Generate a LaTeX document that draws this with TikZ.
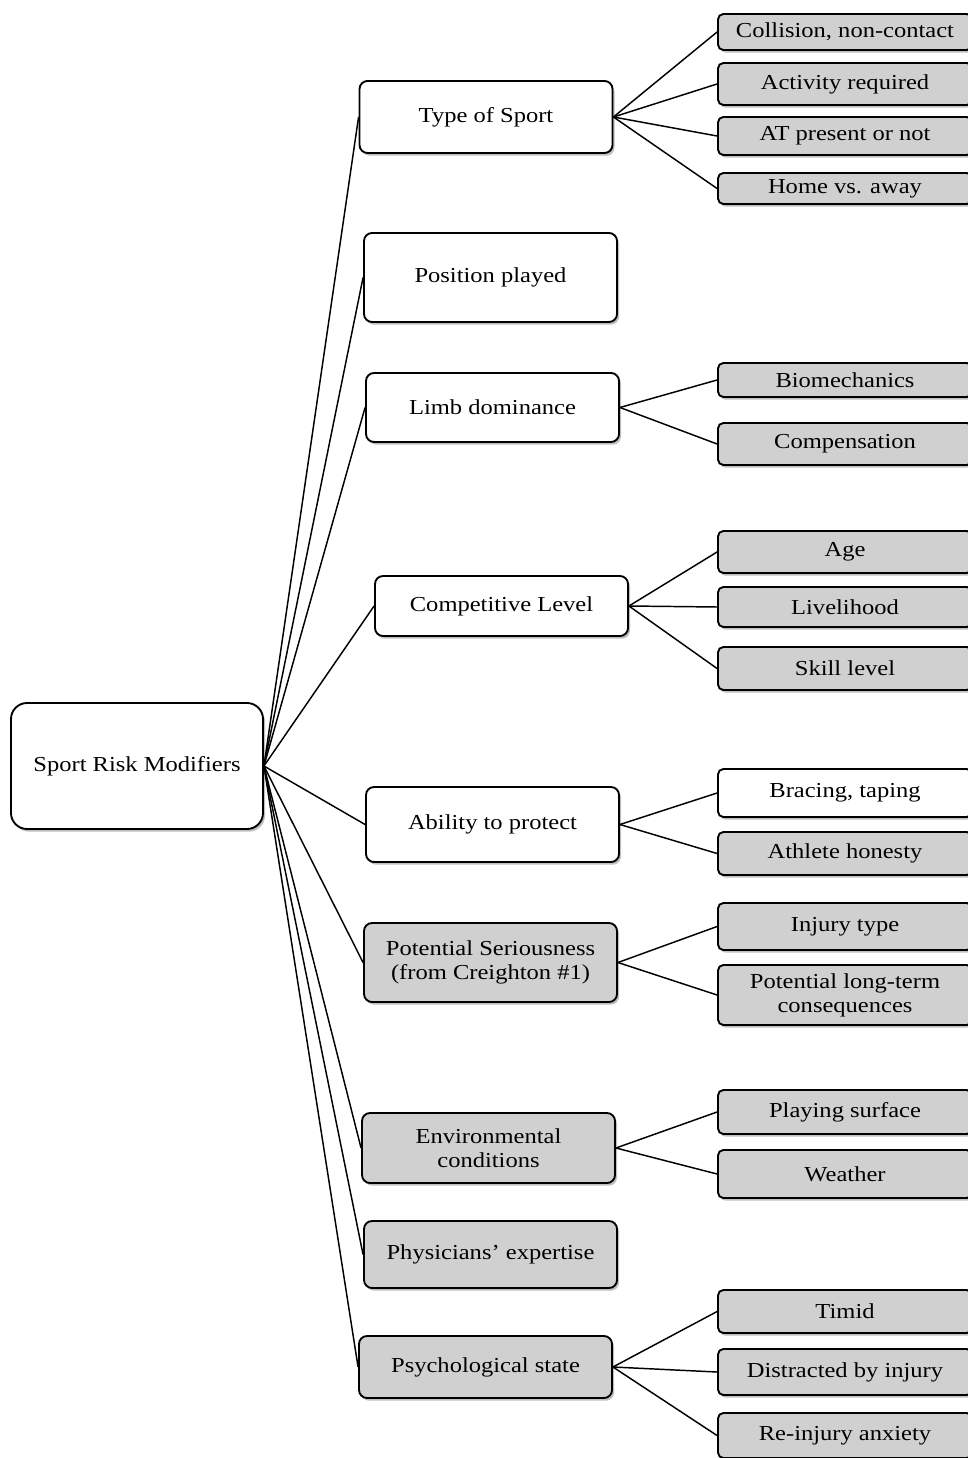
\documentclass[tikz,border=0pt]{standalone}
\usepackage{fontspec}
\setmainfont{Liberation Serif}[FakeStretch=1.15]
\usetikzlibrary{shadows}
\definecolor{boxgray}{RGB}{208,208,208}
\begin{document}
\begin{tikzpicture}[x=0.75pt,y=-0.75pt,
  font=\fontsize{16}{18}\selectfont,
  every node/.style={align=center, inner sep=0pt},
  basebox/.style={draw=black, line width=1.4pt, rounded corners=6pt,
    drop shadow={shadow xshift=1.5pt, shadow yshift=-2pt, opacity=0.25, fill=black}},
  rootbox/.style={basebox, fill=white, rounded corners=12pt,
    minimum width=189pt, minimum height=94.5pt},
  midbox/.style={basebox, minimum width=189.75pt},
  leafbox/.style={basebox, rounded corners=4pt, minimum width=190.5pt},
  white/.style={fill=white},
  grey/.style={fill=boxgray},
  link/.style={draw=black, line width=1.1pt}
]
\useasboundingbox (0,0) rectangle (967,1458);

% root
\node[rootbox] (root) at (137,766) {Sport Risk Modifiers};

% first level
\node[midbox, white, minimum height=54pt] (sport) at (486,117) {Type of Sport};
\node[midbox, white, minimum height=66.75pt] (pos) at (490.5,277.5) {Position played};
\node[midbox, white, minimum height=51.75pt] (limb) at (492.5,407.5) {Limb dominance};
\node[midbox, white, minimum height=45pt] (comp) at (501.5,606) {Competitive Level};
\node[midbox, white, minimum height=56.25pt] (prot) at (492.5,824.5) {Ability to protect};
\node[midbox, grey, minimum height=59.25pt] (ser) at (490.5,962.5) {Potential Seriousness\\(from Creighton \#1)};
\node[midbox, grey, minimum height=52.5pt] (env) at (488.5,1148) {Environmental\\conditions};
\node[midbox, grey, minimum height=50.25pt] (phys) at (490.5,1254.5) {Physicians’ expertise};
\node[midbox, grey, minimum height=46.5pt] (psych) at (485.5,1367) {Psychological state};

% second level
\node[leafbox, grey, minimum height=27pt] (s1) at (845,32) {Collision, non-contact};
\node[leafbox, grey, minimum height=31.5pt] (s2) at (845,84) {Activity required};
\node[leafbox, grey, minimum height=28.5pt] (s3) at (845,136) {AT present or not};
\node[leafbox, grey, minimum height=23.25pt] (s4) at (845,188.5) {Home vs. away};

\node[leafbox, grey, minimum height=25.5pt] (l1) at (845,380) {Biomechanics};
\node[leafbox, grey, minimum height=31.5pt] (l2) at (845,444) {Compensation};

\node[leafbox, grey, minimum height=31.5pt] (c1) at (845,552) {Age};
\node[leafbox, grey, minimum height=30pt] (c2) at (845,607) {Livelihood};
\node[leafbox, grey, minimum height=32.25pt] (c3) at (845,668.5) {Skill level};

\node[leafbox, white, minimum height=36pt] (p1) at (845,793) {Bracing, taping};
\node[leafbox, grey, minimum height=32.25pt] (p2) at (845,853.5) {Athlete honesty};

\node[leafbox, grey, minimum height=35.25pt] (r1) at (845,926.5) {Injury type};
\node[leafbox, grey, minimum height=45pt] (r2) at (845,995) {Potential long-term\\consequences};

\node[leafbox, grey, minimum height=33pt] (e1) at (845,1112) {Playing surface};
\node[leafbox, grey, minimum height=36pt] (e2) at (845,1174) {Weather};

\node[leafbox, grey, minimum height=32.25pt] (y1) at (845,1311.5) {Timid};
\node[leafbox, grey, minimum height=34.5pt] (y2) at (845,1372) {Distracted by injury};
\node[leafbox, grey, minimum height=33.75pt] (y3) at (845,1435.5) {Re-injury anxiety};

% connectors from the root
\foreach \n in {sport,pos,limb,comp,prot,ser,env,phys,psych}
  \draw[link] (root.east) -- (\n.west);

% connectors to the second level
\foreach \n in {s1,s2,s3,s4} \draw[link] (sport.east) -- (\n.west);
\foreach \n in {l1,l2} \draw[link] (limb.east) -- (\n.west);
\foreach \n in {c1,c2,c3} \draw[link] (comp.east) -- (\n.west);
\foreach \n in {p1,p2} \draw[link] (prot.east) -- (\n.west);
\foreach \n in {r1,r2} \draw[link] (ser.east) -- (\n.west);
\foreach \n in {e1,e2} \draw[link] (env.east) -- (\n.west);
\foreach \n in {y1,y2,y3} \draw[link] (psych.east) -- (\n.west);
\end{tikzpicture}
\end{document}
